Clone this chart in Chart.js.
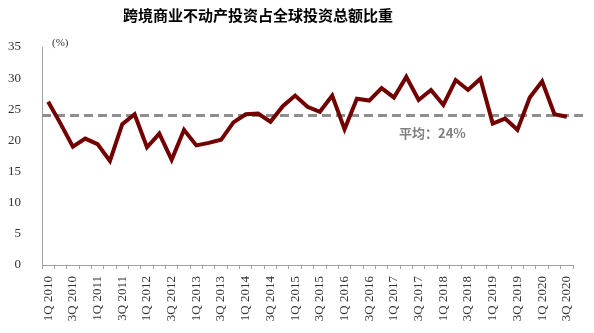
<!DOCTYPE html>
<html>
<head>
<meta charset="utf-8">
<script src="https://cdn.jsdelivr.net/npm/chart.js@4/dist/chart.umd.min.js"></script>
<style>
  html, body { margin: 0; padding: 0; background: #ffffff; }
  #wrap { width: 594px; height: 333px; position: relative; }
</style>
</head>
<body>
<div id="wrap"><canvas id="chart" width="594" height="333"></canvas></div>
<script>
// Quarterly categories, 1Q 2010 – 3Q 2020
const quarters = [
  '1Q 2010', '2Q 2010', '3Q 2010', '4Q 2010',
  '1Q 2011', '2Q 2011', '3Q 2011', '4Q 2011',
  '1Q 2012', '2Q 2012', '3Q 2012', '4Q 2012',
  '1Q 2013', '2Q 2013', '3Q 2013', '4Q 2013',
  '1Q 2014', '2Q 2014', '3Q 2014', '4Q 2014',
  '1Q 2015', '2Q 2015', '3Q 2015', '4Q 2015',
  '1Q 2016', '2Q 2016', '3Q 2016', '4Q 2016',
  '1Q 2017', '2Q 2017', '3Q 2017', '4Q 2017',
  '1Q 2018', '2Q 2018', '3Q 2018', '4Q 2018',
  '1Q 2019', '2Q 2019', '3Q 2019', '4Q 2019',
  '1Q 2020', '2Q 2020', '3Q 2020'
];

// Cross-border share of global commercial real estate investment (%)
const crossBorderShare = [
  26.2, 22.7, 19.0, 20.3,
  19.4, 16.7, 22.6, 24.2,
  18.9, 21.1, 16.9, 21.7,
  19.2, 19.6, 20.1, 22.9,
  24.2, 24.3, 23.0, 25.5,
  27.2, 25.4, 24.6, 27.2,
  21.8, 26.7, 26.4, 28.4,
  26.9, 30.2, 26.5, 28.1,
  25.7, 29.7, 28.1, 29.9,
  22.7, 23.5, 21.7, 26.9,
  29.5, 24.2, 23.8
];

// Period average (%)
const averageShare = 24;

// Value-axis range
const yMin = 0;
const yMax = 35;
const yStep = 5;

const titleText = '跨境商业不动产投资占全球投资总额比重';
const unitText = '(%)';
const averageText = '平均：24%';

// Dashed average line plus title, unit and average annotations
const annotations = {
  id: 'annotations',
  beforeDatasetsDraw(chart) {
    const { ctx, chartArea } = chart;
    const y = chart.scales.y.getPixelForValue(averageShare);
    ctx.save();
    ctx.strokeStyle = '#8e8e8e';
    ctx.lineWidth = 3;
    ctx.setLineDash([9, 5]);
    ctx.beginPath();
    ctx.moveTo(chartArea.left, y);
    ctx.lineTo(chartArea.right + 11, y);
    ctx.stroke();
    ctx.restore();
  },
  afterDraw(chart) {
    const { ctx } = chart;
    const yAvg = chart.scales.y.getPixelForValue(averageShare);
    ctx.save();
    ctx.fillStyle = '#000000';
    ctx.font = 'bold 15px "Noto Sans CJK SC"';
    ctx.textAlign = 'center';
    ctx.textBaseline = 'middle';
    ctx.fillText(titleText, 258, 15);

    ctx.fillStyle = '#333333';
    ctx.font = '11px "Liberation Serif"';
    ctx.textAlign = 'left';
    ctx.fillText(unitText, 52, 43);

    ctx.fillStyle = '#7f7f7f';
    ctx.font = 'bold 13px "Noto Sans CJK SC"';
    ctx.fillText(averageText, 399, yAvg + 18);
    ctx.restore();
  }
};

new Chart(document.getElementById('chart'), {
  type: 'line',
  data: {
    labels: quarters,
    datasets: [{
      data: crossBorderShare,
      borderColor: '#720000',
      borderWidth: 4,
      pointRadius: 0,
      pointHoverRadius: 0,
      tension: 0,
      fill: false
    }]
  },
  options: {
    responsive: false,
    animation: false,
    devicePixelRatio: 1,
    layout: { padding: { top: 47, right: 21, left: 0, bottom: 0 } },
    plugins: {
      legend: { display: false },
      title: { display: false },
      tooltip: { enabled: false }
    },
    scales: {
      x: {
        offset: true,
        grid: {
          offset: true,
          drawOnChartArea: false,
          drawTicks: true,
          tickLength: 4,
          color: '#a0a0a0'
        },
        border: { color: '#a0a0a0', width: 1 },
        ticks: {
          autoSkip: false,
          maxRotation: 90,
          minRotation: 90,
          padding: 7,
          color: '#333333',
          font: { family: '"Liberation Serif"', size: 13 },
          callback: (value, index) => (index % 2 === 0 ? quarters[index] : '')
        },
        afterFit(scale) { scale.height = 68; }
      },
      y: {
        min: yMin,
        max: yMax,
        grid: { drawOnChartArea: false, drawTicks: false },
        border: { color: '#a0a0a0', width: 1 },
        ticks: {
          stepSize: yStep,
          padding: 21,
          color: '#333333',
          font: { family: '"Liberation Serif"', size: 13 }
        },
        afterFit(scale) { scale.width = 42; }
      }
    }
  },
  plugins: [annotations]
});
</script>
</body>
</html>
